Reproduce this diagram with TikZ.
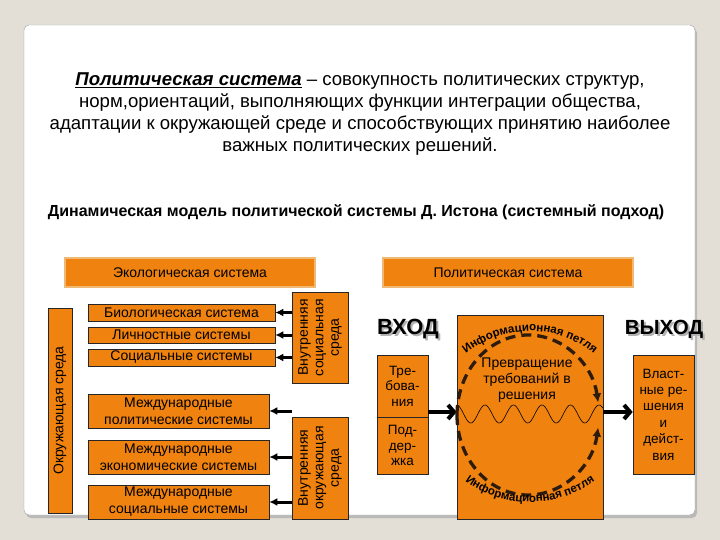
\documentclass[tikz,border=0pt]{standalone}
\usepackage{fontspec}
\setmainfont{Liberation Sans}
\usepackage{tikz}
\definecolor{sysorange}{RGB}{240,130,15}
\definecolor{bevelbraun}{RGB}{95,40,0}
\definecolor{beveltan}{RGB}{240,185,115}
\definecolor{hintergrund}{RGB}{227,222,214}
\definecolor{schleife}{RGB}{45,28,12}
\usetikzlibrary{arrows.meta, calc, decorations.text}
\newcommand{\schatten}[1]{\makebox[0pt][l]{\raisebox{-2pt}{\hspace{2pt}\color{gray!60}#1}}#1}

\begin{document}
\begin{tikzpicture}[x=1pt, y=-1pt, >=Latex,
			box/.style={draw=black!85, line width=0.6pt, fill=sysorange, inner sep=0pt, align=center, font=\fontsize{14}{17}\selectfont},
			bevel/.style={box, draw=bevelbraun, line width=0.9pt, double=beveltan, double distance=1.1pt},
			vtext/.style={rotate=90, align=center, inner sep=0pt, font=\fontsize{14}{15.5}\selectfont},
			pfeil/.style={-{Latex[length=8pt, width=8pt]}, line width=3pt},
			dickpfeil/.style={-{Straight Barb[length=6pt, width=14pt]}, line width=4pt},
			eckig/.style={font=\bfseries\fontsize{22}{22}\selectfont},
			schleifenlinie/.style={-{Latex[length=9pt, width=9pt]}, schleife, line width=3.3pt, dash pattern=on 10pt off 6pt},
			bogentext/.style={decorate, decoration={text along path, text align=center,
				text={|\bfseries\fontsize{11.5}{11.5}\selectfont|Информационная петля}}}]
			%Hintergrund und Karte
			\useasboundingbox[fill=hintergrund] (0,0) rectangle (720,540);
			\fill[gray!55, rounded corners=5] (26,28) rectangle (697,518);
			\draw[fill=white, draw=gray!75, rounded corners=5] (24,25) rectangle (695,515);
			% Ueberschriften
			\node[align=center, font=\fontsize{18.6}{22}\selectfont] (titel) at (360,114)
				{\underline{\textbf{\textit{Политическая система}}} – совокупность политических структур,\\
				норм,ориентаций, выполняющих функции интеграции общества,\\
				адаптации к окружающей среде и способствующих принятию наиболее\\
				важных политических решений.};
			\node[font=\bfseries\fontsize{16}{18}\selectfont] (untertitel) at (356,212)
				{Динамическая модель политической системы Д. Истона (системный подход)};
			% Umwelt
			\node[bevel, minimum width=250pt, minimum height=29pt] (eko) at (190,272.5) {Экологическая система};
			\node[box, minimum width=24pt, minimum height=205pt] (okr) at (60,410.5) {};
			\node[vtext] (okrt) at (okr) {Окружающая среда};
			\node[box, minimum width=187pt, minimum height=17pt] (bio) at (181.5,312.5) {Биологическая система};
			\node[box, minimum width=187pt, minimum height=16pt] (lich) at (181.5,335) {Личностные системы};
			\node[box, minimum width=187pt, minimum height=17pt] (soz) at (181.5,357.5) {Социальные системы};
			\node[box, minimum width=181pt, minimum height=34pt] (mpol) at (178.5,411) {Международные\\политические системы};
			\node[box, minimum width=181pt, minimum height=34pt] (mwirt) at (178.5,457) {Международные\\экономические системы};
			\node[box, minimum width=181pt, minimum height=34pt] (msoz) at (178.5,502) {Международные\\социальные системы};
			\node[box, minimum width=56pt, minimum height=91pt] (vsoz) at (320,337.5) {};
			\node[vtext] (vsozt) at (vsoz) {Внутренняя\\социальная\\среда};
			\node[box, minimum width=56pt, minimum height=102pt] (vokr) at (320,468) {};
			\node[vtext] (vokrt) at (vokr) {Внутренняя\\окружающая\\среда};
			% Pfeile zur Umwelt
			\foreach \z in {bio,lich,soz} \draw[pfeil] (vsoz.west |- \z.east) -- (\z.east);
			\foreach \z in {mpol,mwirt,msoz} \draw[pfeil] (vokr.west |- \z.east) -- (\z.east);
			% Politische Systeme
			\node[bevel, minimum width=250pt, minimum height=29pt] (pol) at (508,272.5) {Политическая система};
			\node[eckig] (eingang) at (408,330) {\schatten{ВХОД}};
			\node[eckig, font=\bfseries\fontsize{20.5}{22}\selectfont] (ausgang) at (664,330) {\schatten{ВЫХОД}};
			\node[box, minimum width=51pt, minimum height=62pt, font=\fontsize{13.5}{15.5}\selectfont] (treb) at (402.5,386) {Тре-\\бова-\\ния};
			\node[box, minimum width=51pt, minimum height=57pt, font=\fontsize{13.5}{15.5}\selectfont] (podd) at (402.5,445.5) {Под-\\дер-\\жка};
			\node[box, minimum width=146pt, minimum height=204pt] (prev) at (530,417) {};
			\node[align=center, font=\fontsize{14}{16}\selectfont] (prevt) at (527,380) {Превращение\\требований в\\решения};
			\node[box, minimum width=61pt, minimum height=119pt, font=\fontsize{13.5}{16.4}\selectfont] (vlast) at (663.5,414.5)
				{Власт-\\ные ре-\\шения\\и\\дейст-\\вия};
			\coordinate (achse) at (530,412);
			\draw[dickpfeil] (treb.east |- achse) -- (prev.west |- achse);
			\draw[dickpfeil] (prev.east |- achse) -- (vlast.west |- achse);
			%Welle und Informationsschleife
			\draw[line width=0.6pt, domain=457:603, samples=150] plot (\x, {414-9*cos(12.6316*(\x-485))});
			\draw[schleifenlinie] (457,415) arc[start angle=180, end angle=351, x radius=71, y radius=80];
			\draw[schleifenlinie] (457,415) arc[start angle=180, end angle=9, x radius=71, y radius=80];
			\coordinate (oben) at (530,432);
			\coordinate (unten) at (530,390);
			\path[bogentext] ($(oben)+(224:101)$) arc[start angle=224, end angle=316, radius=101];
			\path[bogentext] ($(unten)+(128:112)$) arc[start angle=128, end angle=52, radius=112];
		\end{tikzpicture}
\end{document}
